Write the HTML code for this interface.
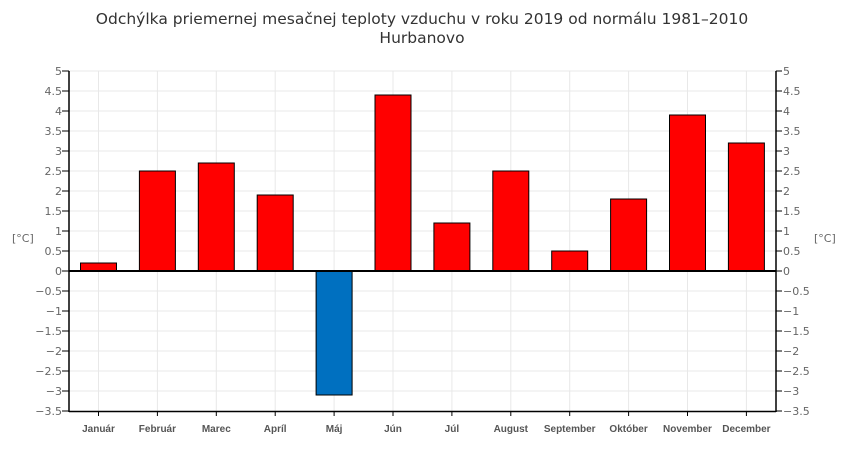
<!DOCTYPE html>
<html><head><meta charset="utf-8"><style>body{margin:0;background:#fff}svg{display:block}</style></head><body>
<svg width="845" height="456" xmlns="http://www.w3.org/2000/svg" font-family="Liberation Sans, DejaVu Sans, sans-serif">
<text x="422" y="24" text-anchor="middle" font-size="15.5" fill="#333" font-family="DejaVu Sans, sans-serif">Odchýlka priemernej mesačnej teploty vzduchu v roku 2019 od normálu 1981–2010</text>
<text x="422" y="43" text-anchor="middle" font-size="15.5" fill="#333" font-family="DejaVu Sans, sans-serif">Hurbanovo</text>
<g stroke="#e8e8e8" stroke-width="1">
<line x1="69" x2="776" y1="71" y2="71"/><line x1="69" x2="776" y1="91" y2="91"/><line x1="69" x2="776" y1="111" y2="111"/><line x1="69" x2="776" y1="131" y2="131"/><line x1="69" x2="776" y1="151" y2="151"/><line x1="69" x2="776" y1="171" y2="171"/><line x1="69" x2="776" y1="191" y2="191"/><line x1="69" x2="776" y1="211" y2="211"/><line x1="69" x2="776" y1="231" y2="231"/><line x1="69" x2="776" y1="251" y2="251"/><line x1="69" x2="776" y1="291" y2="291"/><line x1="69" x2="776" y1="311" y2="311"/><line x1="69" x2="776" y1="331" y2="331"/><line x1="69" x2="776" y1="351" y2="351"/><line x1="69" x2="776" y1="371" y2="371"/><line x1="69" x2="776" y1="391" y2="391"/>
<line x1="98.5" x2="98.5" y1="71" y2="411"/><line x1="157.4" x2="157.4" y1="71" y2="411"/><line x1="216.3" x2="216.3" y1="71" y2="411"/><line x1="275.2" x2="275.2" y1="71" y2="411"/><line x1="334.1" x2="334.1" y1="71" y2="411"/><line x1="393" x2="393" y1="71" y2="411"/><line x1="451.9" x2="451.9" y1="71" y2="411"/><line x1="510.8" x2="510.8" y1="71" y2="411"/><line x1="569.7" x2="569.7" y1="71" y2="411"/><line x1="628.6" x2="628.6" y1="71" y2="411"/><line x1="687.5" x2="687.5" y1="71" y2="411"/><line x1="746.4" x2="746.4" y1="71" y2="411"/>
</g>
<g stroke="#000" stroke-width="1">
<rect x="80.5" y="263" width="36" height="8" fill="#ff0000"/>
<rect x="139.4" y="171" width="36" height="100" fill="#ff0000"/>
<rect x="198.3" y="163" width="36" height="108" fill="#ff0000"/>
<rect x="257.2" y="195" width="36" height="76" fill="#ff0000"/>
<rect x="316.1" y="271" width="36" height="124" fill="#0070c0"/>
<rect x="375" y="95" width="36" height="176" fill="#ff0000"/>
<rect x="433.9" y="223" width="36" height="48" fill="#ff0000"/>
<rect x="492.8" y="171" width="36" height="100" fill="#ff0000"/>
<rect x="551.7" y="251" width="36" height="20" fill="#ff0000"/>
<rect x="610.6" y="199" width="36" height="72" fill="#ff0000"/>
<rect x="669.5" y="115" width="36" height="156" fill="#ff0000"/>
<rect x="728.4" y="143" width="36" height="128" fill="#ff0000"/>
</g>
<g stroke="#000" stroke-width="1.5" fill="none">
<line x1="69" x2="776" y1="271" y2="271" stroke-width="2"/>
<line x1="69" x2="69" y1="71" y2="412"/>
<line x1="776" x2="776" y1="71" y2="412"/>
<line x1="69" x2="776" y1="411.5" y2="411.5"/>
</g>
<g font-size="11" fill="#666" font-family="DejaVu Sans, sans-serif">
<g text-anchor="end">
<text x="62" y="75">5</text><text x="62" y="95">4.5</text><text x="62" y="115">4</text><text x="62" y="135">3.5</text><text x="62" y="155">3</text><text x="62" y="175">2.5</text><text x="62" y="195">2</text><text x="62" y="215">1.5</text><text x="62" y="235">1</text><text x="62" y="255">0.5</text><text x="62" y="275">0</text><text x="62" y="295">−0.5</text><text x="62" y="315">−1</text><text x="62" y="335">−1.5</text><text x="62" y="355">−2</text><text x="62" y="375">−2.5</text><text x="62" y="395">−3</text><text x="62" y="415">−3.5</text>
</g>
<g text-anchor="start">
<text x="783" y="75">5</text><text x="783" y="95">4.5</text><text x="783" y="115">4</text><text x="783" y="135">3.5</text><text x="783" y="155">3</text><text x="783" y="175">2.5</text><text x="783" y="195">2</text><text x="783" y="215">1.5</text><text x="783" y="235">1</text><text x="783" y="255">0.5</text><text x="783" y="275">0</text><text x="783" y="295">−0.5</text><text x="783" y="315">−1</text><text x="783" y="335">−1.5</text><text x="783" y="355">−2</text><text x="783" y="375">−2.5</text><text x="783" y="395">−3</text><text x="783" y="415">−3.5</text>
</g>
<text x="12" y="242">[°C]</text><text x="814" y="242">[°C]</text>
</g>
<g stroke="#000" stroke-width="1">
<line x1="62" x2="69" y1="71" y2="71"/><line x1="62" x2="69" y1="91" y2="91"/><line x1="62" x2="69" y1="111" y2="111"/><line x1="62" x2="69" y1="131" y2="131"/><line x1="62" x2="69" y1="151" y2="151"/><line x1="62" x2="69" y1="171" y2="171"/><line x1="62" x2="69" y1="191" y2="191"/><line x1="62" x2="69" y1="211" y2="211"/><line x1="62" x2="69" y1="231" y2="231"/><line x1="62" x2="69" y1="251" y2="251"/><line x1="62" x2="69" y1="271" y2="271"/><line x1="62" x2="69" y1="291" y2="291"/><line x1="62" x2="69" y1="311" y2="311"/><line x1="62" x2="69" y1="331" y2="331"/><line x1="62" x2="69" y1="351" y2="351"/><line x1="62" x2="69" y1="371" y2="371"/><line x1="62" x2="69" y1="391" y2="391"/><line x1="62" x2="69" y1="411" y2="411"/>
<line x1="776" x2="782" y1="71" y2="71"/><line x1="776" x2="782" y1="91" y2="91"/><line x1="776" x2="782" y1="111" y2="111"/><line x1="776" x2="782" y1="131" y2="131"/><line x1="776" x2="782" y1="151" y2="151"/><line x1="776" x2="782" y1="171" y2="171"/><line x1="776" x2="782" y1="191" y2="191"/><line x1="776" x2="782" y1="211" y2="211"/><line x1="776" x2="782" y1="231" y2="231"/><line x1="776" x2="782" y1="251" y2="251"/><line x1="776" x2="782" y1="271" y2="271"/><line x1="776" x2="782" y1="291" y2="291"/><line x1="776" x2="782" y1="311" y2="311"/><line x1="776" x2="782" y1="331" y2="331"/><line x1="776" x2="782" y1="351" y2="351"/><line x1="776" x2="782" y1="371" y2="371"/><line x1="776" x2="782" y1="391" y2="391"/><line x1="776" x2="782" y1="411" y2="411"/>
<line x1="98.5" x2="98.5" y1="411" y2="416"/><line x1="157.4" x2="157.4" y1="411" y2="416"/><line x1="216.3" x2="216.3" y1="411" y2="416"/><line x1="275.2" x2="275.2" y1="411" y2="416"/><line x1="334.1" x2="334.1" y1="411" y2="416"/><line x1="393" x2="393" y1="411" y2="416"/><line x1="451.9" x2="451.9" y1="411" y2="416"/><line x1="510.8" x2="510.8" y1="411" y2="416"/><line x1="569.7" x2="569.7" y1="411" y2="416"/><line x1="628.6" x2="628.6" y1="411" y2="416"/><line x1="687.5" x2="687.5" y1="411" y2="416"/><line x1="746.4" x2="746.4" y1="411" y2="416"/>
</g>
<g font-size="10" fill="#555" text-anchor="middle" font-weight="bold">
<text x="98.5" y="432">Január</text><text x="157.4" y="432">Február</text><text x="216.3" y="432">Marec</text><text x="275.2" y="432">Apríl</text><text x="334.1" y="432">Máj</text><text x="393" y="432">Jún</text><text x="451.9" y="432">Júl</text><text x="510.8" y="432">August</text><text x="569.7" y="432">September</text><text x="628.6" y="432">Október</text><text x="687.5" y="432">November</text><text x="746.4" y="432">December</text>
</g>
</svg>
</body></html>
